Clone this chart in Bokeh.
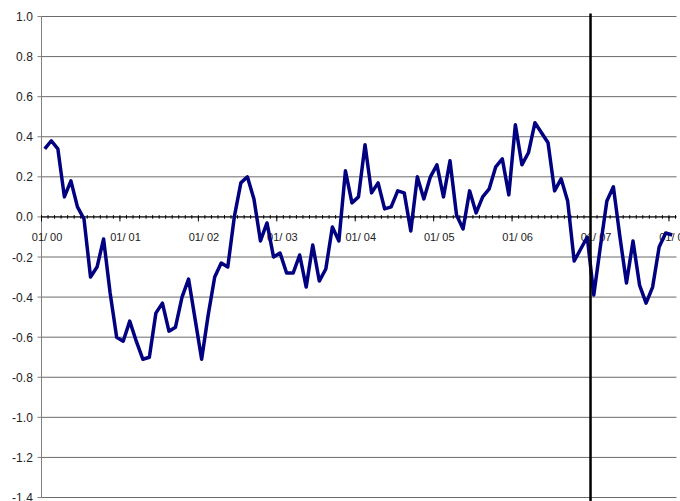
from bokeh.plotting import figure
from bokeh.models import Range1d
from bokeh.embed import file_html
from bokeh.resources import INLINE

# ---- data ----
values = [
    0.34, 0.38, 0.34, 0.10, 0.18, 0.05, -0.01, -0.30, -0.25, -0.11,
    -0.38, -0.60, -0.62, -0.52, -0.62, -0.71, -0.70, -0.48, -0.43, -0.57,
    -0.55, -0.40, -0.31, -0.51, -0.71, -0.49, -0.30, -0.23, -0.25, 0.00,
    0.17, 0.20, 0.09, -0.12, -0.03, -0.20, -0.18, -0.28, -0.28, -0.19,
    -0.35, -0.14, -0.32, -0.26, -0.05, -0.12, 0.23, 0.07, 0.10, 0.36,
    0.12, 0.17, 0.04, 0.05, 0.13, 0.12, -0.07, 0.20, 0.09, 0.20,
    0.26, 0.10, 0.28, 0.01, -0.06, 0.13, 0.02, 0.10, 0.14, 0.25,
    0.29, 0.11, 0.46, 0.26, 0.32, 0.47, 0.42, 0.37, 0.13, 0.19,
    0.08, -0.22, -0.16, -0.10, -0.39, -0.15, 0.08, 0.15, -0.10, -0.33,
    -0.12, -0.34, -0.43, -0.35, -0.15, -0.08, -0.09,
]
month_index = list(range(len(values)))          # 0 = Jan 2000
year_labels = ["01/ 00", "01/ 01", "01/ 02", "01/ 03", "01/ 04",
               "01/ 05", "01/ 06", "01/ 07", "01/ 08"]
year_starts = [0, 12, 24, 36, 48, 60, 72, 84, 96]
event_month = 84                                  # vertical marker at 01/07
y_ticks = [-1.4, -1.2, -1.0, -0.8, -0.6, -0.4, -0.2, 0.0, 0.2, 0.4, 0.6, 0.8, 1.0]
y_labels = ["%.1f" % t for t in y_ticks]

# ---- layout constants (pixel mapping of the category axis) ----
W, H = 680, 501
PX_PER_MONTH = 6.536
PX_PER_UNIT = 200.42
LEFT_PX, TOP_PX = 41.0, 16.0          # pixel position of month 0 and of y = 1.0
x_start = -LEFT_PX / PX_PER_MONTH
x_end = (W - LEFT_PX) / PX_PER_MONTH
y_top = 1.0 + TOP_PX / PX_PER_UNIT
y_bot = 1.0 - (H - TOP_PX) / PX_PER_UNIT
grid_end = 97.15                      # right end of the plot area (months)
ymin, ymax = y_ticks[0], y_ticks[-1]

x_points = [m + 0.5 for m in month_index]
label_x = [m + 0.85 for m in year_starts]

FONT = "Liberation Sans"
TXT = "#222222"

p = figure(width=W, height=H, output_backend="svg", toolbar_location=None,
           x_range=Range1d(x_start, x_end), y_range=Range1d(y_bot, y_top),
           x_axis_location=None, y_axis_location=None,
           min_border=0, min_border_left=0, min_border_right=0,
           min_border_top=0, min_border_bottom=0)
p.outline_line_color = None
p.background_fill_color = "white"
p.border_fill_color = "white"
p.xgrid.visible = False
p.ygrid.visible = False

# horizontal gridlines
p.segment(x0=[0] * len(y_ticks), y0=y_ticks, x1=[grid_end] * len(y_ticks), y1=y_ticks,
          line_color="#6a6a6a", line_width=1)

# value axis (left)
p.segment(x0=[0], y0=[ymin], x1=[0], y1=[ymax], line_color="#808080", line_width=1)
tick_len = 4 / PX_PER_MONTH
p.segment(x0=[-tick_len] * len(y_ticks), y0=y_ticks, x1=[0] * len(y_ticks), y1=y_ticks,
          line_color="#808080", line_width=1)
p.text(x=[-8.7 / PX_PER_MONTH] * len(y_ticks), y=y_ticks, text=y_labels,
       text_align="right", text_baseline="middle",
       text_font={"value": FONT}, text_font_size={"value": "12px"}, text_color=TXT)

# category axis crossing at zero
p.segment(x0=[0], y0=[0], x1=[grid_end], y1=[0], line_color="black", line_width=1)
minor_x = month_index + [len(values)]
p.segment(x0=minor_x, y0=[1.8 / PX_PER_UNIT] * len(minor_x), x1=minor_x,
          y1=[-1.8 / PX_PER_UNIT] * len(minor_x), line_color="black", line_width=1)
p.segment(x0=year_starts, y0=[0.0] * len(year_starts), x1=year_starts,
          y1=[-4.5 / PX_PER_UNIT] * len(year_starts), line_color="black", line_width=1)
p.text(x=label_x, y=[-0.10] * len(label_x), text=year_labels,
       text_align="center", text_baseline="middle",
       text_font={"value": FONT}, text_font_size={"value": "11px"}, text_color=TXT)

# data series
p.line(x_points, values, line_color="#000080", line_width=3.5, line_join="round")

# event marker
p.segment(x0=[event_month], y0=[y_bot], x1=[event_month], y1=[1.0 + 3 / PX_PER_UNIT],
          line_color="black", line_width=2.5)

open("out.html", "w").write(file_html(p, INLINE))
